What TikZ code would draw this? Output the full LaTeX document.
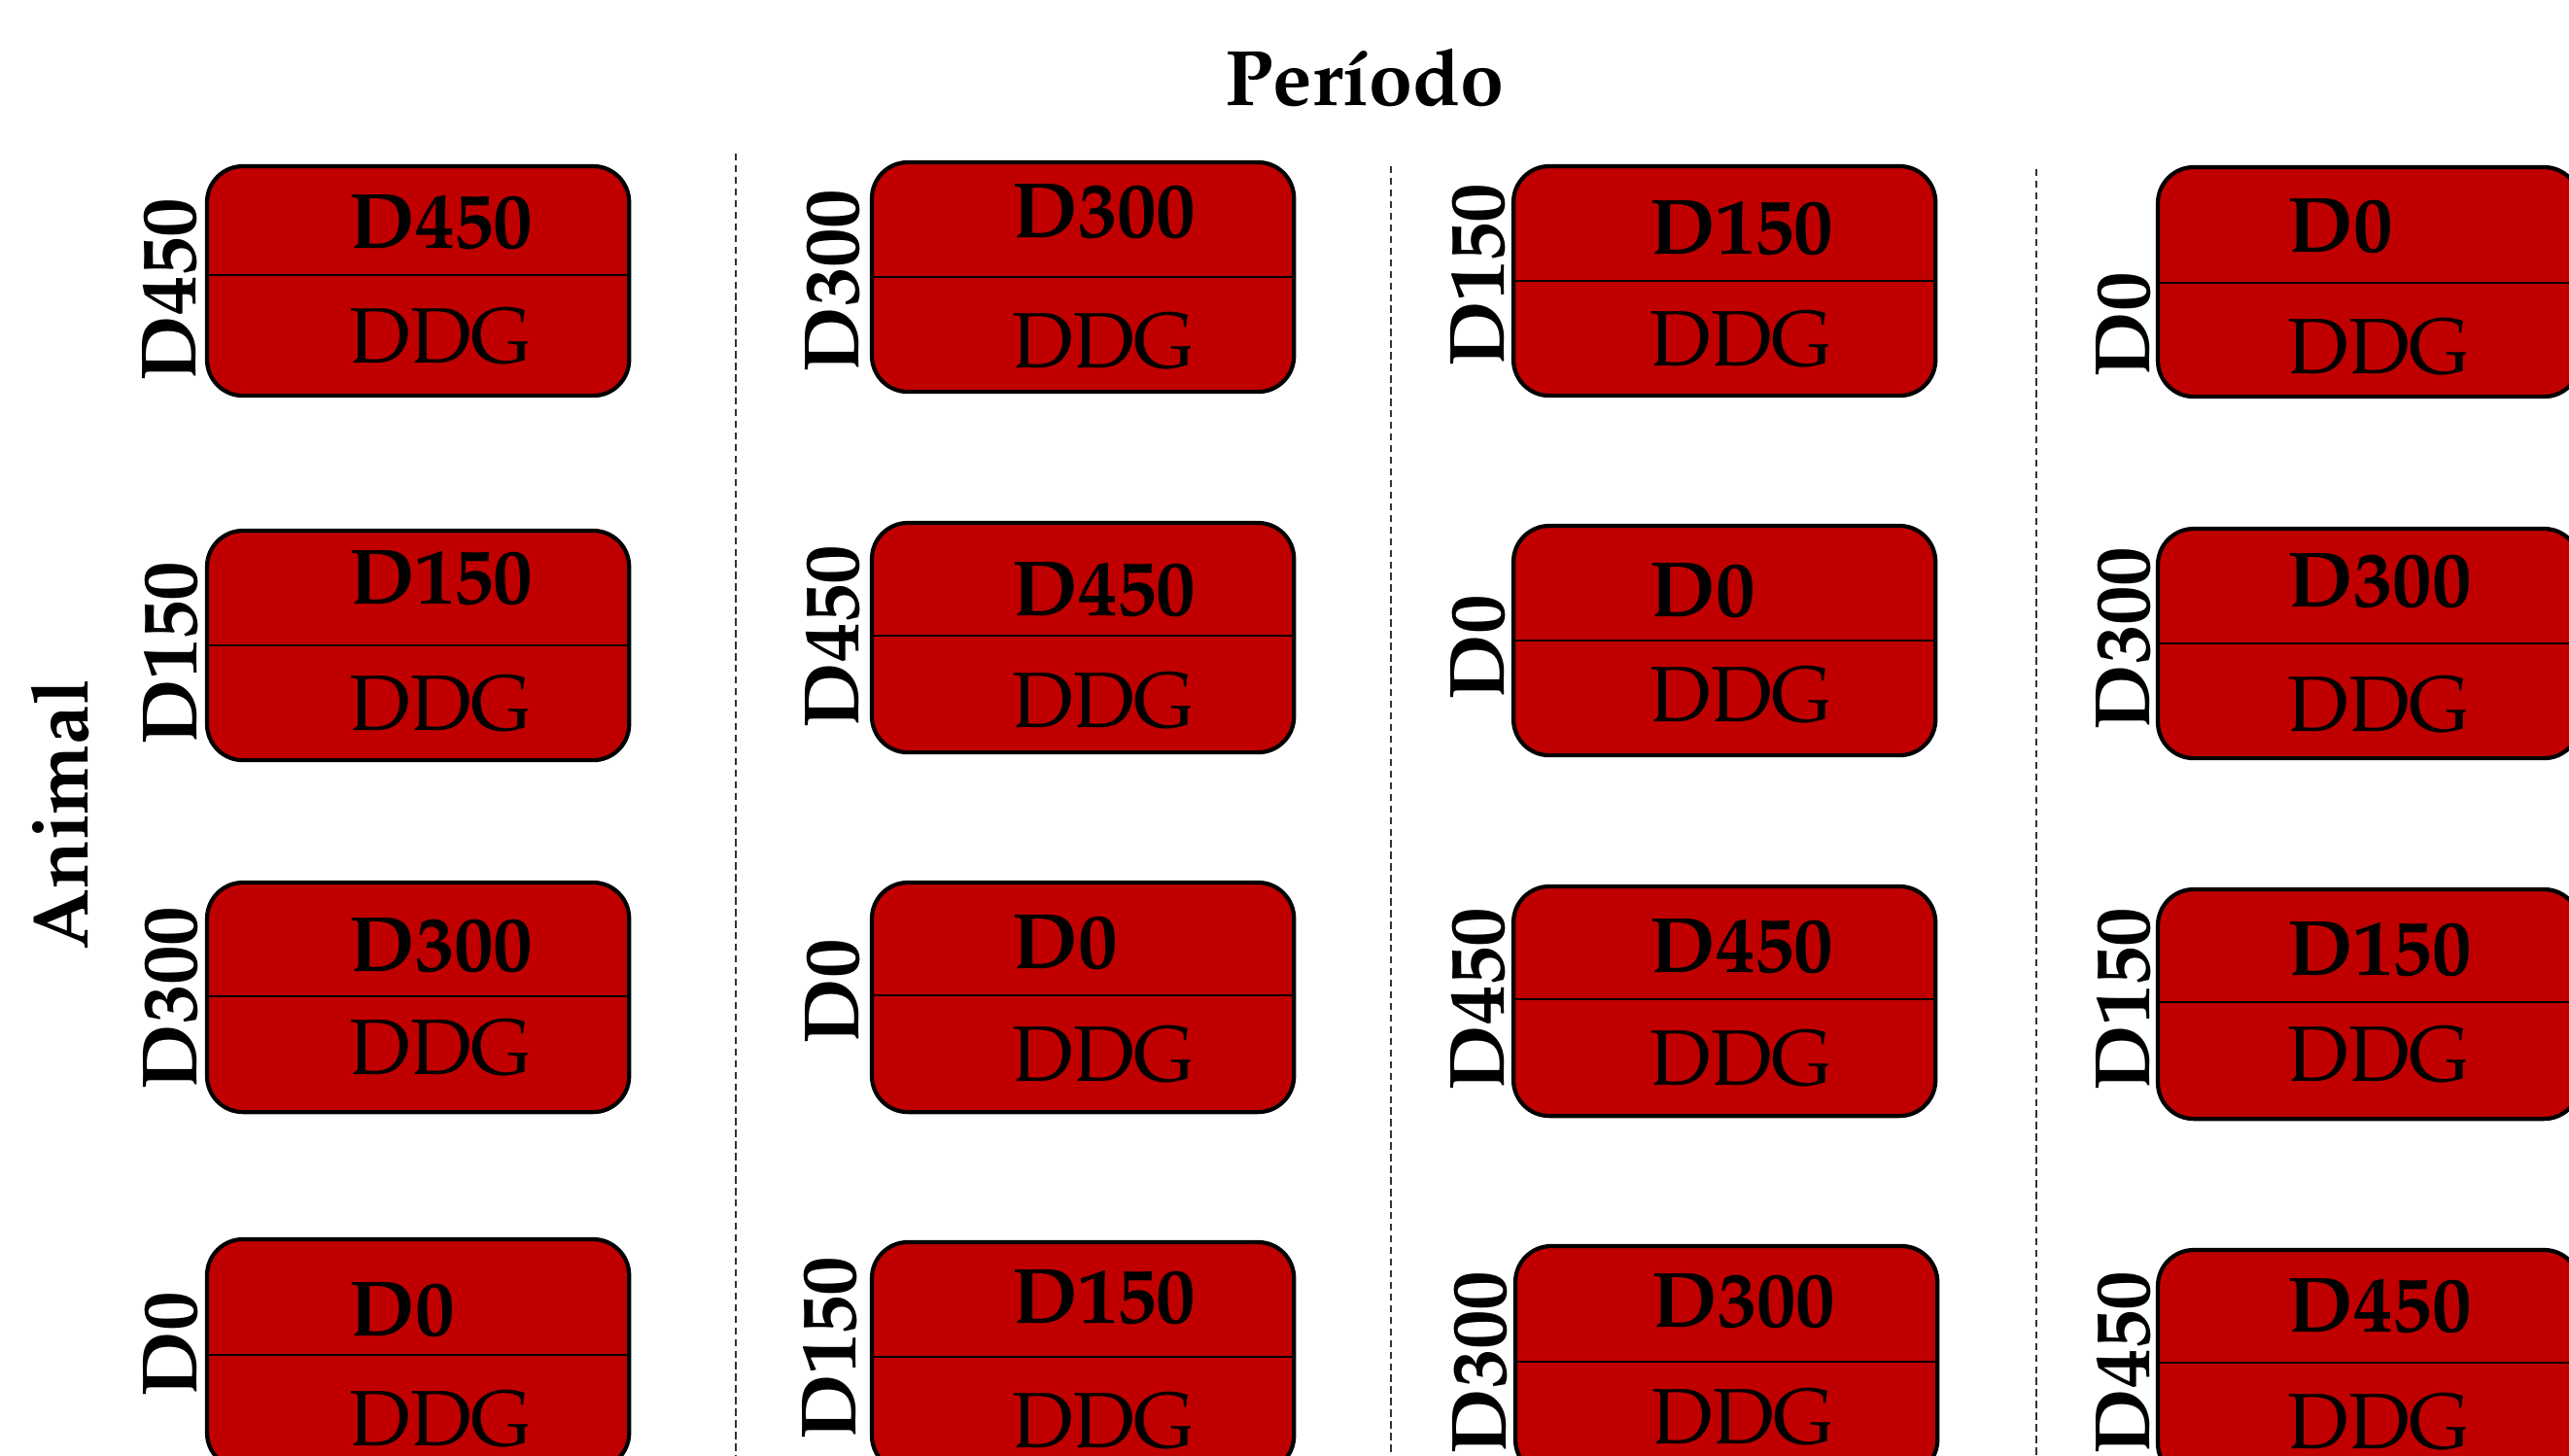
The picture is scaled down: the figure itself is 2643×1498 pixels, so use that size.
\documentclass[tikz,border=0pt]{standalone}
\usepackage[T1]{fontenc}
\usepackage{mathpazo}
\usetikzlibrary{calc}
\definecolor{boxred}{RGB}{192,0,0}
\tikzset{
  cellbox/.style={draw=black, line width=1.2pt, fill=boxred, rounded corners=0.37cm,
    minimum width=4.34cm, minimum height=2.36cm, inner sep=0pt, outer sep=0pt, anchor=north west},
  divline/.style={draw=black, line width=0.45pt},
  uptext/.style={font=\fontsize{23}{27}\selectfont\bfseries, anchor=base west, inner sep=0pt},
  lowtext/.style={font=\fontsize{23}{27}\selectfont, anchor=base west, inner sep=0pt},
  sidelab/.style={font=\fontsize{23}{27}\selectfont\bfseries, rotate=90, anchor=base west, inner sep=0pt},
  titletext/.style={font=\fontsize{23}{27}\selectfont\bfseries, anchor=base, inner sep=0pt},
  colsep/.style={draw=black!80, line width=0.6pt, dash pattern=on 2.1pt off 1.3pt},
}
\newcommand\cell[8]{%
  \node[cellbox] (#1) at (#2,#3) {};
  \draw[divline] ($(#1.north west)+(0,#8)$) -- ($(#1.north east)+(0,#8)$);
  \node[uptext] (#1u) at ($(#1.north west)+(#5,#6)$) {#4};
  \node[lowtext] (#1d) at ($(#1.north west)+(#5,#7)$) {DDG};
}
\begin{document}
\begin{tikzpicture}[x=0.01cm,y=-0.01cm]
\useasboundingbox (0,0) rectangle (2643,1498);
\clip (0,0) rectangle (2643,1498);

% column separators
\draw[colsep] (757,158) -- (757,1498);
\draw[colsep] (1431,171) -- (1431,1498);
\draw[colsep] (2095,174) -- (2095,1498);

% axis titles
\node[titletext] (title) at (1404,109) {Per\'{\i}odo};
\node[sidelab] (animal) at (90,978) {Animal};

% row 1
\cell{b11}{213}{171}{D450}{146}{85}{203}{112}
\cell{b12}{897}{167}{D300}{144}{78}{212}{118}
\cell{b13}{1557}{171}{D150}{140}{91}{206}{118}
\cell{b14}{2220}{172}{D0}{133}{88}{213}{119}
% row 2
\cell{b21}{213}{546}{D150}{146}{76}{206}{118}
\cell{b22}{897}{538}{D450}{144}{96}{211}{116}
\cell{b23}{1557}{541}{D0}{140}{94}{202}{118}
\cell{b24}{2220}{544}{D300}{133}{81}{209}{118}
% row 3
\cell{b31}{213}{908}{D300}{146}{91}{197}{117}
\cell{b32}{897}{908}{D0}{144}{88}{204}{116}
\cell{b33}{1557}{912}{D450}{140}{88}{204}{116}
\cell{b34}{2220}{915}{D150}{133}{88}{197}{116}
% row 4
\cell{b41}{213}{1275}{D0}{146}{99}{212}{119}
\cell{b42}{897}{1278}{D150}{144}{83}{211}{118}
\cell{b43}{1559}{1282}{D300}{140}{83}{203}{119}
\cell{b44}{2220}{1286}{D450}{133}{84}{204}{116}

% side labels
\node[sidelab] (l11) at (201,393) {D450};
\node[sidelab] (l12) at (883,384) {D300};
\node[sidelab] (l13) at (1547,378) {D150};
\node[sidelab] (l14) at (2211,389) {D0};
\node[sidelab] (l21) at (202,767) {D150};
\node[sidelab] (l22) at (883,750) {D450};
\node[sidelab] (l23) at (1547,721) {D0};
\node[sidelab] (l24) at (2211,752) {D300};
\node[sidelab] (l31) at (202,1122) {D300};
\node[sidelab] (l32) at (883,1075) {D0};
\node[sidelab] (l33) at (1547,1123) {D450};
\node[sidelab] (l34) at (2211,1123) {D150};
\node[sidelab] (l41) at (202,1438) {D0};
\node[sidelab] (l42) at (880,1482) {D150};
\node[sidelab] (l43) at (1549,1497) {D300};
\node[sidelab] (l44) at (2211,1497) {D450};
\end{tikzpicture}
\end{document}
